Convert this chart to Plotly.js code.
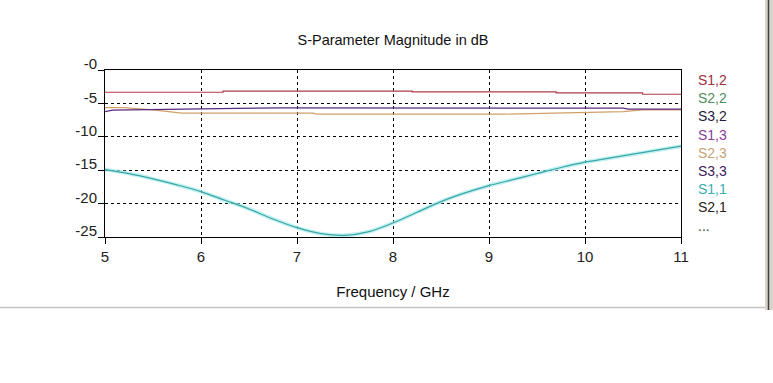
<!DOCTYPE html>
<html>
<head>
<meta charset="utf-8">
<script src="https://cdn.plot.ly/plotly-3.0.1.min.js"></script>
<style>html,body{margin:0;padding:0;background:#fff;}#chart{width:773px;height:383px;}</style>
</head>
<body>
<div id="chart"></div>
<script>
// ---- data ----
const s11Freq = [5,5.25,5.5,5.75,6,6.25,6.5,6.75,7,7.25,7.5,7.75,8,8.25,8.5,8.75,9,9.25,9.5,9.75,10,10.25,10.5,10.75,11];
const s11Vals = [-14.9,-15.5,-16.3,-17.2,-18.2,-19.5,-20.8,-22.3,-23.6,-24.5,-24.75,-24.2,-22.9,-21.3,-19.7,-18.4,-17.3,-16.4,-15.5,-14.6,-13.8,-13.2,-12.6,-12.0,-11.4];

const s12Freq = [5,6.23,8.2,9.7,10.6,11];
const s12Vals = [-3.33,-3.15,-3.27,-3.43,-3.63,-3.63];

const s32Freq = [5,5.08,6.0,6.85,10.4,10.45,11];
const s32Vals = [-6.22,-6.0,-5.82,-5.66,-5.72,-5.87,-5.87];

const s23Freq = [5,5.2,5.5,5.8,7.17,7.2,9.15,9.7,10.4,10.6,11];
const s23Vals = [-5.63,-5.63,-5.97,-6.46,-6.46,-6.61,-6.61,-6.46,-6.22,-5.97,-5.97];

const xTicks = [5,6,7,8,9,10,11];
const yTicks = [0,-5,-10,-15,-20,-25];
const yTickText = ['-0','-5','-10','-15','-20','-25'];

const legendLabels = ['S1,2','S2,2','S3,2','S1,3','S2,3','S3,3','S1,1','S2,1','...'];
const legendColors = ['#9a3040','#4f8f5f','#1c1c3c','#8a3c9a','#c4a474','#3c1c5c','#38b0b0','#2c2418','#444444'];

// ---- traces ----
const traces = [
  {x:s11Freq, y:s11Vals, mode:'lines', line:{color:'rgba(170,235,235,0.7)', width:4, shape:'spline', smoothing:0.8}, hoverinfo:'skip', showlegend:false},
  {x:s11Freq, y:s11Vals, mode:'lines', line:{color:'#3aa6a6', width:1.2, shape:'spline', smoothing:0.8}, name:'S1,1', showlegend:false},
  {x:s23Freq, y:s23Vals, mode:'lines', line:{color:'#d2a068', width:1.2}, name:'S2,3', showlegend:false},
  {x:s32Freq, y:s32Vals, mode:'lines', line:{color:'#5a2a7e', width:1.2}, name:'S3,2', showlegend:false},
  {x:s12Freq, y:s12Vals, mode:'lines', line:{color:'#b03a48', width:1.2, shape:'hv'}, name:'S1,2', showlegend:false}
];

// legend as coloured text (like the reference)
const L = 105, T = 70, PW = 576, PH = 167;
const annotations = legendLabels.map((t,i)=>({
  text:t, xref:'paper', yref:'paper', x:(696-L)/PW, y:(PH-(80+18.2*i-T))/PH,
  xanchor:'left', yanchor:'middle', showarrow:false,
  font:{family:'Liberation Sans, Arial, sans-serif', size:14, color:legendColors[i]}
}));

const shapes = [
  {type:'rect', xref:'paper', yref:'paper', x0:(765-L)/PW, x1:(773-L)/PW, y0:(237-310)/PH, y1:(237+5)/PH, fillcolor:'#d8d4cc', line:{width:0}, layer:'below'},
  {type:'line', xref:'paper', yref:'paper', x0:(768.5-L)/PW, x1:(768.5-L)/PW, y0:(237-310)/PH, y1:(237+5)/PH, line:{color:'#404040', width:1.5}},
  {type:'line', xref:'paper', yref:'paper', x0:(0-L)/PW, x1:(765-L)/PW, y0:(237-307.5)/PH, y1:(237-307.5)/PH, line:{color:'#c4c4c4', width:1.5}}
];

const layout = {
  width:773, height:383,
  margin:{l:105, r:92, t:70, b:146},
  paper_bgcolor:'#ffffff', plot_bgcolor:'#ffffff',
  font:{family:'Liberation Sans, Arial, sans-serif', size:14, color:'#111'},
  title:{text:'S-Parameter Magnitude in dB', x:0.5, xref:'paper', xanchor:'center', y:1-40/383, yref:'container', yanchor:'middle',
         font:{size:14.5, color:'#111'}},
  showlegend:false,
  xaxis:{range:[5,11], tickvals:xTicks, ticktext:xTicks.map(String), showgrid:true, gridcolor:'#000', griddash:'3px,3px', gridwidth:1,
         showline:true, mirror:true, linecolor:'#000', linewidth:1, ticks:'outside', ticklen:6, tickcolor:'#000', zeroline:false,
         tickfont:{size:15, color:'#222'},
         title:{text:'Frequency / GHz', standoff:22, font:{size:15, color:'#111'}}},
  yaxis:{range:[-25,0], tickvals:yTicks, ticktext:yTickText, showgrid:true, gridcolor:'#000', griddash:'3px,3px', gridwidth:1,
         showline:true, mirror:true, linecolor:'#000', linewidth:1, ticks:'outside', ticklen:6, tickcolor:'#000', zeroline:false,
         tickfont:{size:15, color:'#222'}, ticklabelshift:-6, ticklabelstandoff:-2},
  annotations:annotations,
  shapes:shapes
};

Plotly.newPlot('chart', traces, layout, {staticPlot:true, displayModeBar:false});
</script>
</body>
</html>
